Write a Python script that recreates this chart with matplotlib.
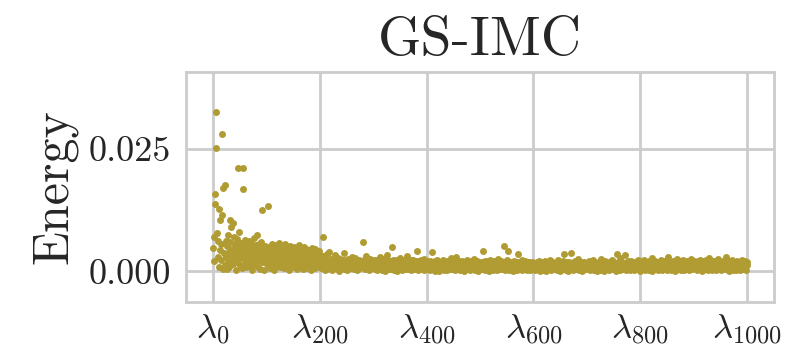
import numpy as np
import matplotlib
matplotlib.use("Agg")
import matplotlib.pyplot as plt

# energy per eigen-component, in units of 1e-4
energy_001_100 = [48, 20, 70, 137, 158, 253, 325, 79, 62, 30,
                  128, 9, 43, 105, 23, 55, 281, 115, 171, 4,
                  38, 13, 176, 62, 30, 4, 51, 74, 19, 40,
                  8, 105, 60, 27, 91, 46, 98, 15, 35, 70,
                  22, 56, 3, 41, 66, 18, 212, 33, 49, 81,
                  12, 58, 27, 44, 6, 212, 169, 36, 52, 17,
                  63, 29, 8, 47, 55, 21, 38, 61, 11, 45,
                  30, 57, 2, 40, 24, 50, 68, 14, 35, 53,
                  20, 74, 42, 9, 31, 56, 26, 47, 5, 38,
                  60, 19, 125, 44, 28, 3, 52, 36, 16, 23]
energy_101_200 = [41, 27, 133, 12, 50, 34, 7, 45, 22, 56,
                  30, 16, 48, 38, 3, 42, 25, 53, 11, 36,
                  47, 19, 32, 58, 8, 40, 27, 14, 51, 35,
                  21, 44, 6, 37, 29, 55, 17, 41, 10, 33,
                  48, 24, 2, 39, 52, 15, 30, 45, 20, 8,
                  36, 49, 26, 13, 42, 31, 5, 47, 22, 38,
                  16, 53, 28, 9, 34, 43, 19, 4, 40, 25,
                  50, 12, 31, 46, 7, 35, 23, 41, 14, 29,
                  44, 18, 3, 37, 27, 48, 10, 32, 21, 39,
                  6, 45, 24, 15, 36, 28, 11, 42, 19, 33]
energy_201_300 = [18, 27, 6, 22, 12, 31, 70, 15, 9, 3,
                  24, 10, 19, 35, 7, 21, 14, 40, 5, 17,
                  26, 11, 16, 2, 23, 13, 20, 8, 33, 18,
                  6, 22, 14, 28, 9, 19, 1, 25, 12, 21,
                  16, 7, 24, 18, 4, 37, 13, 20, 9, 23,
                  15, 3, 26, 19, 10, 22, 6, 17, 14, 30,
                  8, 21, 16, 5, 20, 12, 27, 18, 2, 22,
                  13, 19, 9, 24, 15, 6, 21, 17, 10, 20,
                  60, 14, 23, 4, 18, 11, 32, 16, 7, 21,
                  14, 3, 19, 26, 10, 17, 6, 22, 15, 9]
energy_301_400 = [20, 12, 5, 24, 16, 8, 19, 2, 22, 14,
                  10, 29, 17, 6, 21, 13, 3, 25, 15, 9,
                  18, 1, 23, 14, 11, 34, 7, 18, 4, 21,
                  15, 10, 20, 5, 17, 49, 12, 24, 3, 19,
                  13, 7, 22, 16, 1, 20, 10, 18, 5, 27,
                  14, 8, 19, 2, 23, 15, 11, 6, 20, 12,
                  17, 4, 31, 9, 15, 21, 5, 18, 13, 2,
                  22, 7, 16, 12, 24, 4, 19, 9, 14, 21,
                  6, 42, 16, 3, 20, 11, 17, 8, 23, 13,
                  5, 19, 10, 15, 26, 2, 18, 12, 8, 20]
energy_401_500 = [14, 5, 19, 10, 16, 3, 21, 12, 7, 17,
                  40, 4, 15, 11, 20, 1, 13, 18, 8, 24,
                  6, 16, 12, 1, 19, 9, 17, 5, 14, 22,
                  10, 3, 18, 13, 7, 21, 15, 2, 17, 11,
                  6, 19, 13, 4, 27, 10, 16, 5, 20, 12,
                  8, 18, 2, 15, 30, 8, 16, 12, 5, 20,
                  13, 3, 18, 9, 15, 6, 21, 11, 17, 1,
                  14, 7, 19, 12, 4, 23, 10, 16, 6, 18,
                  2, 13, 20, 8, 16, 5, 12, 25, 15, 3,
                  18, 10, 7, 20, 13, 1, 17, 9, 15, 6]
energy_501_600 = [19, 11, 4, 16, 42, 8, 18, 13, 2, 21,
                  10, 15, 6, 20, 12, 1, 17, 8, 23, 14,
                  5, 18, 10, 15, 3, 21, 12, 7, 16, 9,
                  19, 2, 14, 26, 6, 17, 11, 4, 20, 13,
                  8, 16, 5, 51, 12, 18, 2, 15, 9, 22,
                  7, 42, 17, 3, 14, 19, 10, 6, 18, 12,
                  1, 15, 21, 8, 17, 5, 14, 10, 19, 3,
                  35, 12, 16, 6, 18, 8, 14, 2, 22, 10,
                  17, 5, 12, 20, 7, 15, 3, 18, 11, 14,
                  6, 19, 9, 2, 16, 13, 8, 18, 4, 15]
energy_601_700 = [10, 17, 3, 14, 7, 19, 12, 4, 16, 8,
                  21, 1, 14, 10, 18, 6, 12, 17, 3, 15,
                  8, 20, 11, 1, 16, 9, 17, 5, 13, 24,
                  6, 16, 2, 12, 19, 8, 14, 4, 17, 10,
                  7, 18, 12, 3, 15, 22, 6, 10, 17, 1,
                  14, 9, 16, 5, 20, 12, 36, 8, 15, 3,
                  18, 11, 6, 17, 1, 13, 19, 8, 14, 5,
                  37, 10, 16, 2, 18, 7, 12, 21, 4, 14,
                  9, 17, 6, 25, 11, 3, 15, 8, 18, 12,
                  1, 16, 10, 19, 5, 13, 7, 17, 10, 15]
energy_701_800 = [4, 14, 20, 8, 12, 2, 17, 10, 6, 15,
                  22, 7, 13, 3, 18, 10, 15, 1, 17, 12,
                  5, 19, 9, 14, 3, 26, 11, 6, 16, 8,
                  18, 1, 12, 20, 5, 15, 10, 17, 7, 13,
                  2, 18, 10, 14, 6, 23, 8, 4, 16, 12,
                  19, 6, 14, 1, 17, 36, 9, 16, 5, 12,
                  28, 3, 15, 8, 18, 11, 5, 17, 10, 13,
                  7, 34, 2, 16, 12, 20, 6, 14, 9, 18,
                  3, 12, 21, 8, 16, 5, 14, 2, 19, 10,
                  15, 6, 18, 4, 13, 24, 8, 17, 11, 1]
energy_801_900 = [16, 9, 19, 5, 14, 11, 22, 2, 17, 7,
                  12, 18, 5, 15, 10, 20, 3, 16, 8, 13,
                  27, 1, 18, 10, 14, 6, 21, 8, 4, 16,
                  12, 19, 3, 14, 9, 17, 6, 23, 11, 2,
                  18, 8, 15, 5, 20, 12, 10, 16, 2, 18,
                  7, 29, 13, 5, 16, 10, 19, 3, 14, 8,
                  21, 6, 17, 12, 1, 18, 9, 25, 14, 4,
                  16, 11, 20, 7, 15, 3, 18, 10, 22, 8,
                  12, 2, 19, 14, 5, 17, 10, 21, 7, 16,
                  3, 18, 12, 8, 26, 13, 5, 16, 9, 20]
energy_901_1000 = [6, 14, 10, 19, 2, 17, 8, 21, 12, 4,
                   16, 24, 9, 18, 1, 14, 20, 7, 16, 11,
                   5, 22, 13, 8, 18, 3, 15, 28, 10, 17,
                   7, 19, 12, 2, 16, 21, 5, 14, 18, 9,
                   3, 20, 12, 16, 8, 25, 6, 14, 19, 10,
                   2, 17, 13, 21, 7, 16, 11, 4, 19, 8,
                   30, 14, 5, 18, 12, 1, 16, 20, 8, 13,
                   10, 22, 3, 15, 19, 7, 12, 17, 3, 21,
                   9, 14, 6, 19, 11, 16, 2, 18, 8, 24,
                   13, 5, 16, 10, 20, 7, 14, 3, 18, 12]

tick_pos = [0, 200, 400, 600, 800, 1000]
tick_labels = [r"$\lambda_{%d}$" % t for t in tick_pos]

energy = np.array(energy_001_100 + energy_101_200 + energy_201_300 + energy_301_400
                  + energy_401_500 + energy_501_600 + energy_601_700 + energy_701_800
                  + energy_801_900 + energy_901_1000) * 1e-4
idx = np.arange(1, len(energy) + 1)

plt.rcParams["mathtext.fontset"] = "cm"
plt.rcParams["font.family"] = ["cmr10", "DejaVu Serif"]
plt.rcParams["axes.formatter.use_mathtext"] = True

grid_col = "#cccccc"
fig = plt.figure(figsize=(7.95, 3.51), dpi=100)
ax = fig.add_axes([0.234, 0.1396, 0.7396, 0.6554])

ax.scatter(idx, energy, s=25, color="#b09c33", linewidths=0, zorder=3)

ax.set_xlim(-50, 1050)
ax.set_ylim(-0.0063, 0.0408)
ax.set_xticks(tick_pos)
ax.set_xticklabels(tick_labels, fontsize=25)
ax.set_yticks([0.0, 0.025])
ax.set_yticklabels(["0.000", "0.025"], fontsize=26)
ax.tick_params(axis="x", length=0, pad=7, colors="#262626")
ax.tick_params(axis="y", length=0, pad=11, colors="#262626")
ax.grid(True, color=grid_col, lw=2)
ax.set_axisbelow(True)
for sp in ax.spines.values():
    sp.set_color(grid_col)
    sp.set_linewidth(2)

ax.set_ylabel("Energy", fontsize=36, labelpad=8, color="#262626")
ax.set_title("GS-IMC", fontsize=40, pad=12, color="#262626")

plt.savefig("out.png", dpi=100)
